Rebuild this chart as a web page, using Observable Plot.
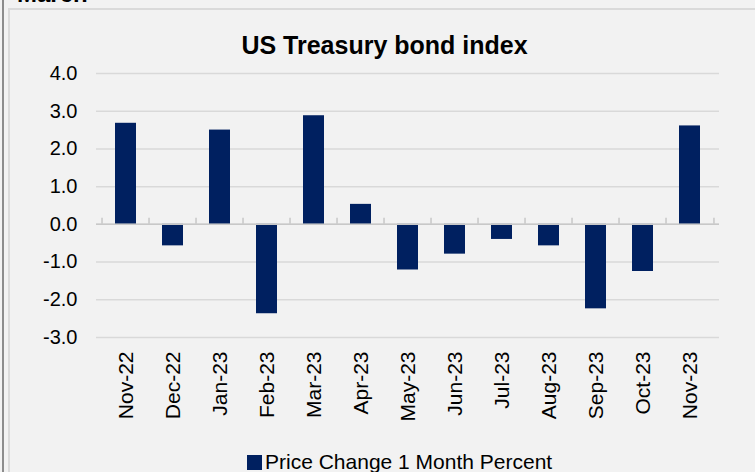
<!DOCTYPE html>
<html>
<head>
<meta charset="utf-8">
<script src="https://cdn.jsdelivr.net/npm/d3@7"></script>
<script src="https://cdn.jsdelivr.net/npm/@observablehq/plot@0.6"></script>
<style>
  html, body { margin: 0; padding: 0; }
  body { width: 755px; height: 472px; background: #f2f2f2; overflow: hidden; position: relative; font-family: "Liberation Sans", Arial, sans-serif; }
  #leftline { position: absolute; left: 2px; top: 0; width: 2px; height: 472px; background: #8c8c8c; }
  #box { position: absolute; left: 8px; top: 8px; width: 800px; height: 500px; border: 2px solid #dadada; box-sizing: border-box; }
  #march { position: absolute; left: 17px; top: -18px; font-weight: bold; font-size: 24px; line-height: 24px; color: #000; }
  #title { position: absolute; left: 0; width: 769px; top: 31px; text-align: center; font-weight: bold; font-size: 25px; line-height: 28px; color: #000; }
  #chart { position: absolute; left: 0; top: 0; }
  #legend { position: absolute; left: 247px; top: 450px; font-size: 21px; line-height: 24px; color: #000; white-space: nowrap; }
  #legend .sw { display: inline-block; width: 15px; height: 15px; background: #002060; margin-right: 3px; vertical-align: -1px; }
</style>
</head>
<body>
<div id="leftline"></div>
<div id="box"></div>
<div id="march">March</div>
<div id="title">US Treasury bond index</div>
<div id="chart"></div>
<div id="legend"></div>
<script>
const months = ["Nov-22","Dec-22","Jan-23","Feb-23","Mar-23","Apr-23","May-23","Jun-23","Jul-23","Aug-23","Sep-23","Oct-23","Nov-23"];
const priceChange = [2.68, -0.57, 2.50, -2.37, 2.88, 0.53, -1.21, -0.79, -0.40, -0.57, -2.24, -1.25, 2.61];
const yTicks = [-3, -2, -1, 0, 1, 2, 3, 4];
const seriesName = "Price Change 1 Month Percent";
const barColor = "#002060";

const data = months.map((m, i) => ({month: m, value: priceChange[i]}));

const W = 755, H = 472;
const mL = 96, mR = 36, mT = 73, mB = 135;
const step = (W - mL - mR) / months.length;

const plot = Plot.plot({
  width: W,
  height: H,
  marginLeft: mL,
  marginRight: mR,
  marginTop: mT,
  marginBottom: mB,
  style: {background: "transparent", fontFamily: "'Liberation Sans', Arial, sans-serif", color: "#000"},
  x: {domain: months, paddingInner: 0.56, paddingOuter: 0.28, label: null},
  y: {domain: [-3, 4], label: null},
  marks: [
    Plot.gridY(yTicks, {stroke: "#d9d9d9", strokeOpacity: 1, strokeWidth: 1.5}),
    Plot.axisY(yTicks, {tickSize: 0, tickPadding: 19, fontSize: 20, tickFormat: d => d.toFixed(1), label: null}),
    Plot.axisX({tickSize: 0, tickPadding: 14, tickRotate: -90, fontSize: 21, label: null}),
    Plot.barY(data, {x: "month", y: "value", fill: barColor}),
    Plot.ruleY([0], {stroke: "#c8c8c8", strokeWidth: 1.5}),
    Plot.ruleX(months, {x: d => d, y1: 0, y2: 0, insetTop: -6, dx: -step / 2, stroke: "#c8c8c8", strokeWidth: 1.5}),
    Plot.ruleX(months.slice(-1), {x: d => d, y1: 0, y2: 0, insetTop: -6, dx: step / 2, stroke: "#c8c8c8", strokeWidth: 1.5})
  ]
});
document.getElementById("chart").appendChild(plot);

const leg = document.getElementById("legend");
leg.innerHTML = '<span class="sw"></span>';
leg.appendChild(document.createTextNode(seriesName));
</script>
</body>
</html>
